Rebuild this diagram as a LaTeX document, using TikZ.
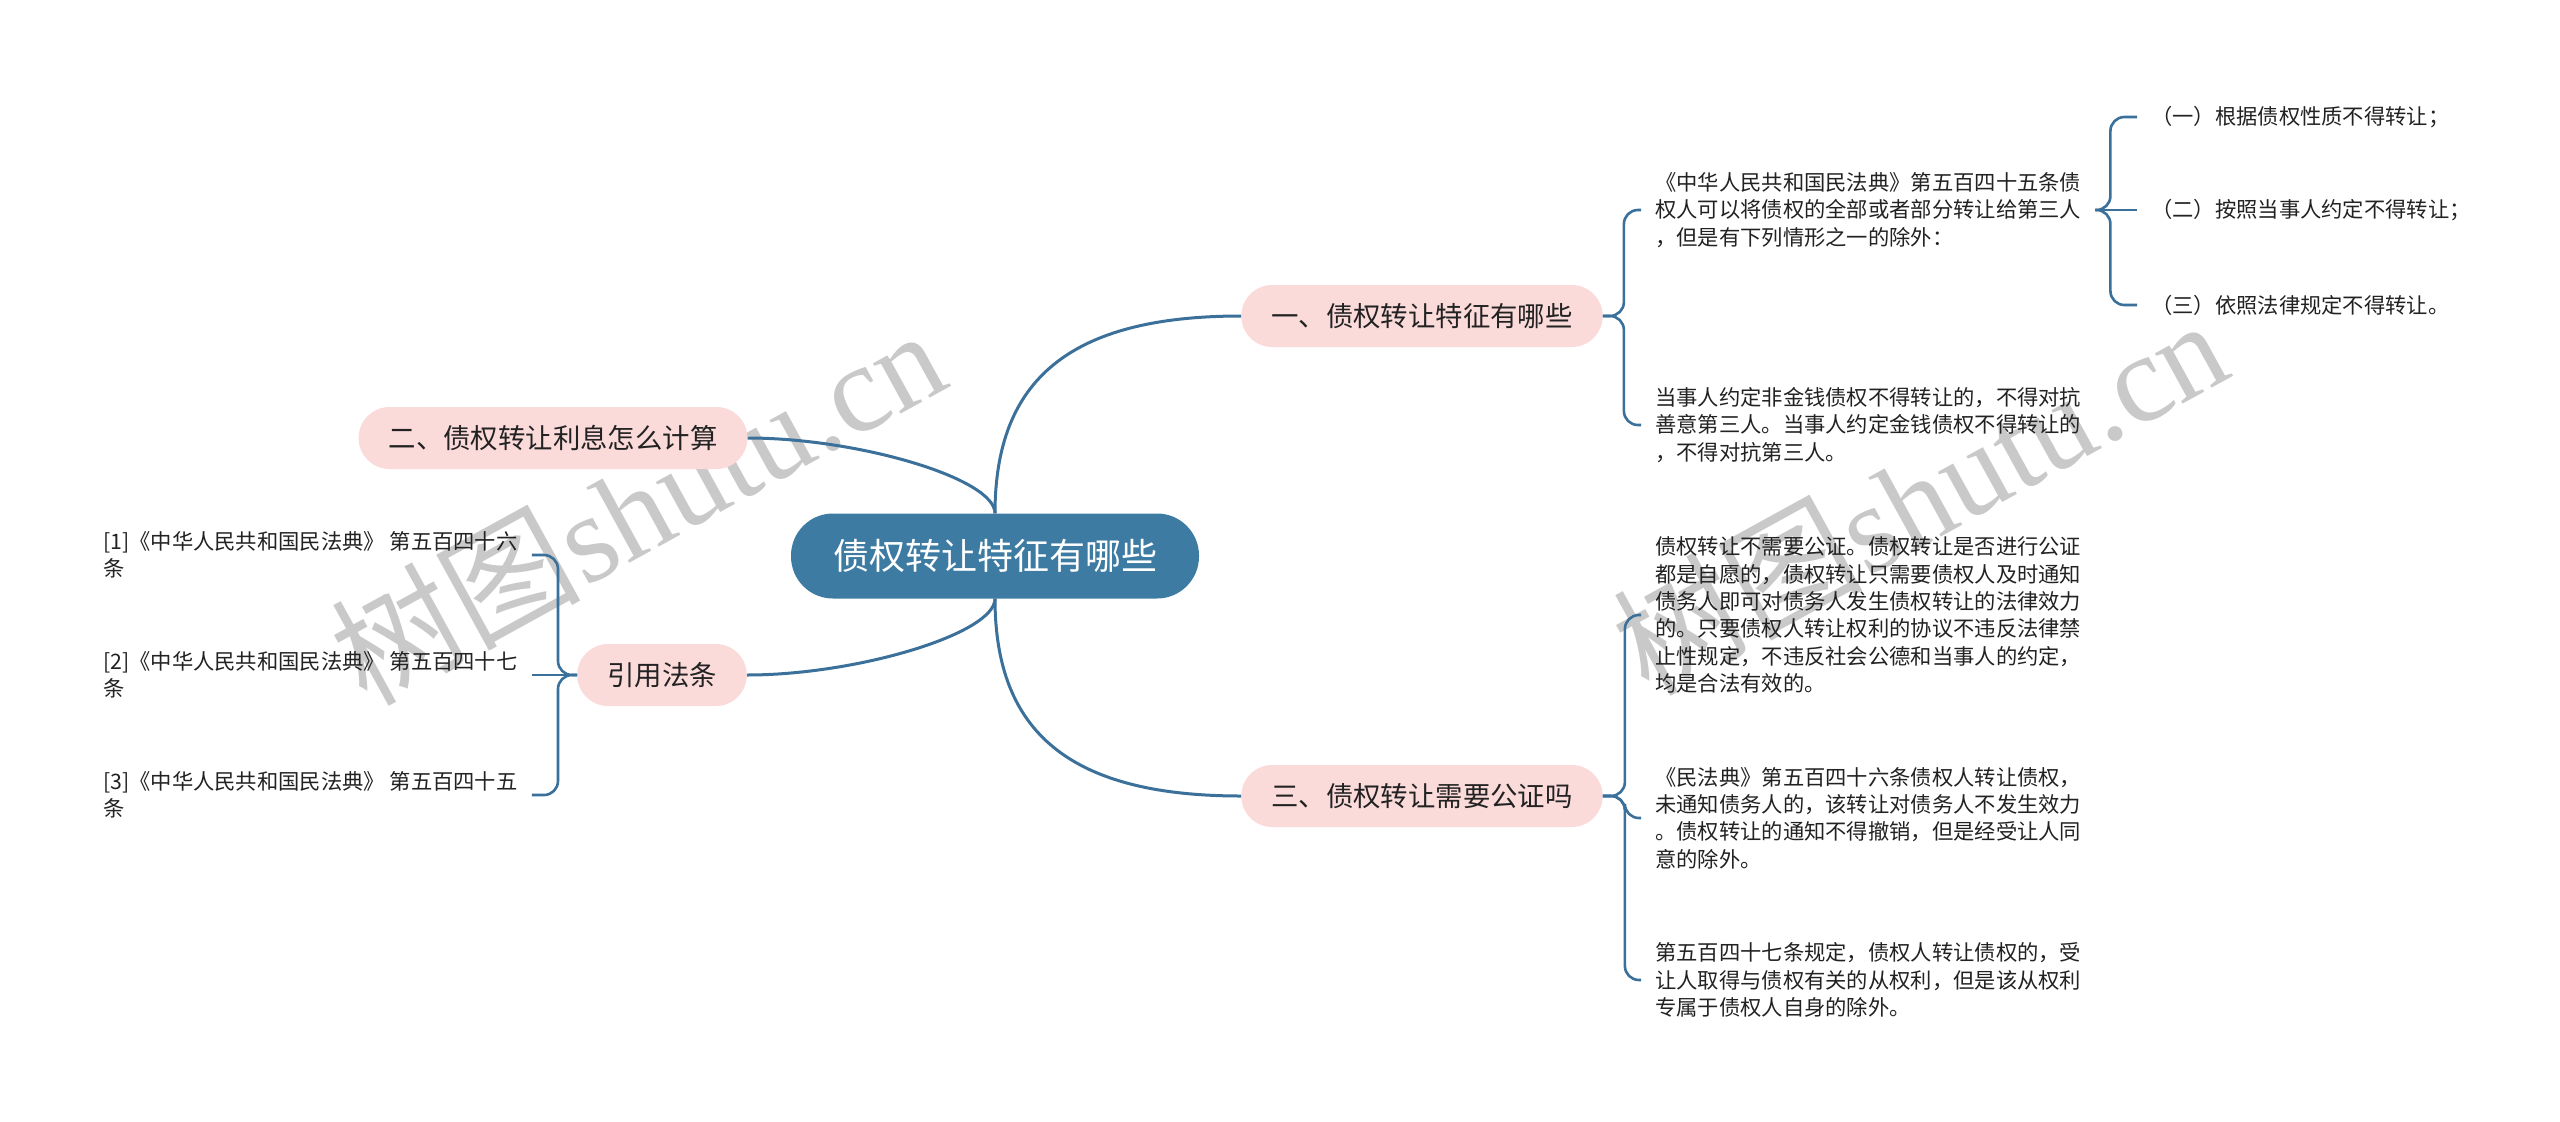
\documentclass[tikz,border=0pt]{standalone}
\usepackage{fontspec}
\setmainfont{Noto Sans CJK SC}
\newfontfamily\wmserif{Liberation Serif}
\definecolor{rootblue}{HTML}{3D7BA3}
\definecolor{linkblue}{HTML}{3A7099}
\definecolor{pinkbox}{HTML}{FBDADA}
\definecolor{inkgray}{HTML}{222222}
\newcommand{\taille}[2]{\fontsize{#1pt}{#2pt}\selectfont}
\newcommand{\fork}[3]{\draw[fork] (#1) -- ++(#2,0) |- (#3);}

\begin{document}
\begin{tikzpicture}[x=1pt,y=-1pt,
	link/.style={draw=linkblue,line width=3pt},
	fork/.style={draw=linkblue,line width=2.6pt,rounded corners=14pt},
	root/.style={fill=rootblue,text=white,rounded corners=42pt,minimum height=85pt,inner xsep=42pt,font=\taille{36}{40}},
	topic/.style={fill=pinkbox,text=inkgray,rounded corners=31pt,minimum height=62pt,inner xsep=30pt,font=\taille{27.4}{32}},
	leaf/.style={anchor=west,text=inkgray,align=left,inner xsep=14pt,inner ysep=2pt,font=\taille{21.3}{27.3}},
	wm/.style={text=black!21,inner sep=0pt,anchor=base west,rotate=28.8,font=\taille{125}{125}}]
	\fill[white] (0,0) rectangle (2560,1122);
	\useasboundingbox (0,0) rectangle (2560,1122);
	\node[wm] (wm1) at (366,708) {树图{\wmserif shutu.cn}};
	\node[wm] (wm2) at (1648,698) {树图{\wmserif shutu.cn}};
	\node[root] (root) at (995,556) {债权转让特征有哪些};
	\node[topic] (b1) at (1422,316) {一、债权转让特征有哪些};
	\node[topic] (b2) at (553,438) {二、债权转让利息怎么计算};
	\node[topic] (b3) at (1422,796) {三、债权转让需要公证吗};
	\node[topic] (b4) at (662,675) {引用法条};
	\draw[link] (root.north) .. controls +(0,-134) and +(-171,0) .. (b1.west);
	\draw[link] (root.south) .. controls +(0,134) and +(-171,0) .. (b3.west);
	\draw[link] (root.north) .. controls +(0,-35) and +(110,0) .. (b2.east);
	\draw[link] (root.south) .. controls +(0,35) and +(110,0) .. (b4.east);
	\node[leaf] (a1) at (1641,210) {《中华人民共和国民法典》第五百四十五条债\\权人可以将债权的全部或者部分转让给第三人\\，但是有下列情形之一的除外：};
	\node[leaf] (a2) at (1641,425) {当事人约定非金钱债权不得转让的，不得对抗\\善意第三人。当事人约定金钱债权不得转让的\\，不得对抗第三人。};
	\node[leaf] (g1) at (2137,117) {（一）根据债权性质不得转让；};
	\node[leaf] (g2) at (2137,210) {（二）按照当事人约定不得转让；};
	\node[leaf] (g3) at (2137,305) {（三）依照法律规定不得转让。};
	\node[leaf] (c1) at (1641,615) {债权转让不需要公证。债权转让是否进行公证\\都是自愿的，债权转让只需要债权人及时通知\\债务人即可对债务人发生债权转让的法律效力\\的。只要债权人转让权利的协议不违反法律禁\\止性规定，不违反社会公德和当事人的约定，\\均是合法有效的。};
	\node[leaf] (c2) at (1641,818) {《民法典》第五百四十六条债权人转让债权，\\未通知债务人的，该转让对债务人不发生效力\\。债权转让的通知不得撤销，但是经受让人同\\意的除外。};
	\node[leaf] (c3) at (1641,980) {第五百四十七条规定，债权人转让债权的，受\\让人取得与债权有关的从权利，但是该从权利\\专属于债权人自身的除外。};
	\node[leaf] (l1) at (89,555) {[1]《中华人民共和国民法典》 第五百四十六\\条};
	\node[leaf] (l2) at (89,675) {[2]《中华人民共和国民法典》 第五百四十七\\条};
	\node[leaf] (l3) at (89,795) {[3]《中华人民共和国民法典》 第五百四十五\\条};
	\fork{b1.east}{21}{a1.west}
	\fork{b1.east}{21}{a2.west}
	\fork{a1.east}{15}{g1.west}
	\draw[fork] (a1.east) -- (g2.west);
	\fork{a1.east}{15}{g3.west}
	\fork{b3.east}{22}{c1.west}
	\fork{b3.east}{22}{c2.west}
	\fork{b3.east}{22}{c3.west}
	\fork{b4.west}{-19}{l1.east}
	\draw[fork] (b4.west) -- (l2.east);
	\fork{b4.west}{-19}{l3.east}
\end{tikzpicture}
\end{document}
